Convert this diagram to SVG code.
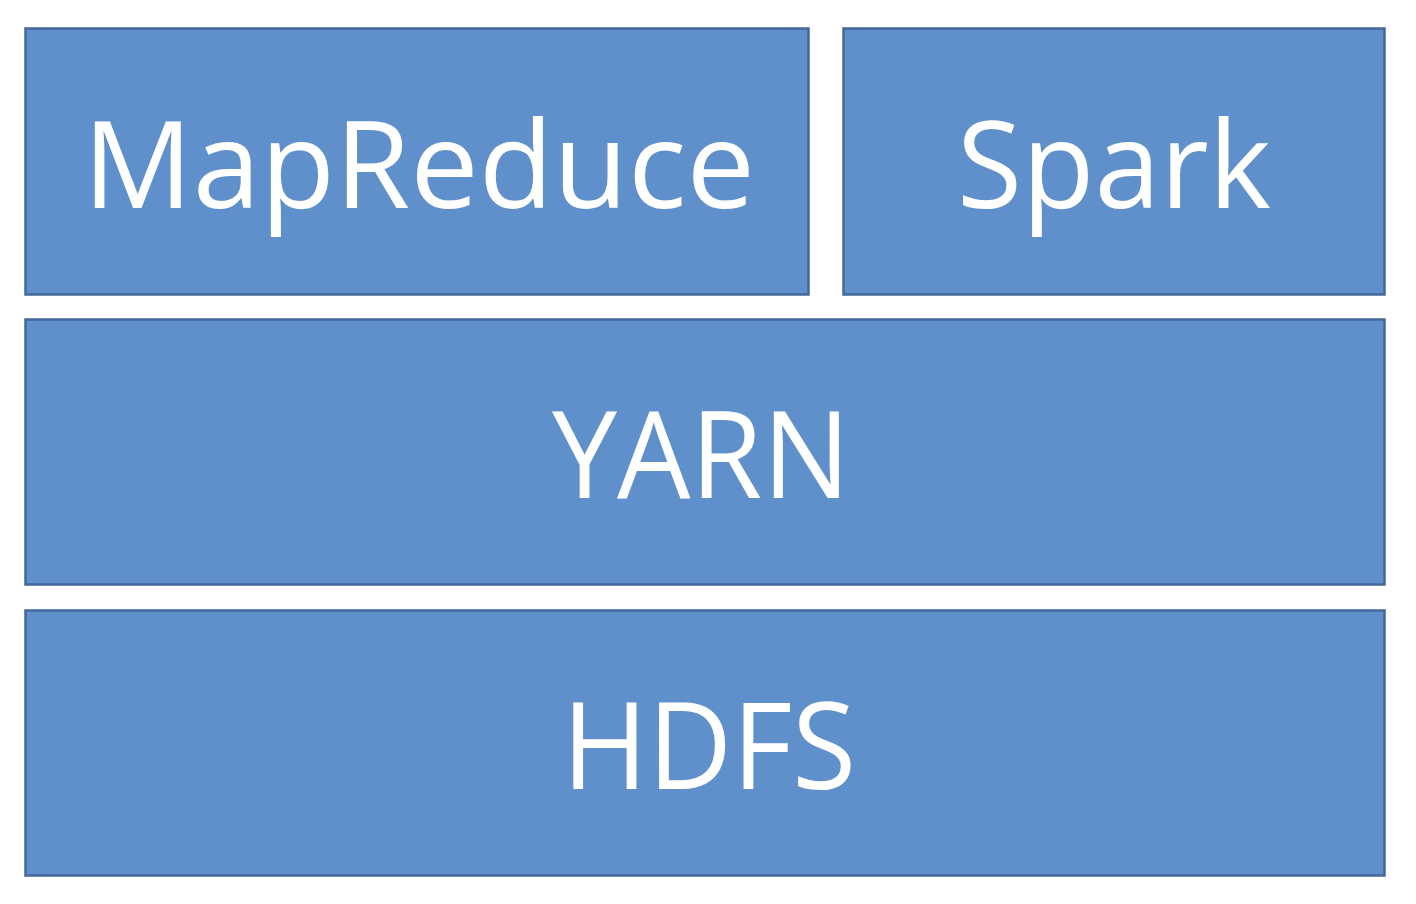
<svg xmlns="http://www.w3.org/2000/svg" width="1416" height="904" viewBox="0 0 1416 904">
<style>
.box{fill:#6090CB;stroke:#42699A;stroke-width:2.5}
.lbl{fill:#FFFFFF;font-family:"Open Sans","Noto Sans",sans-serif;font-size:120px;text-anchor:middle}
</style>
<rect width="1416" height="904" fill="#FFFFFF"/>
<g id="mapreduce"><rect class="box" x="25.5" y="28.5" width="783" height="266"/><text class="lbl" x="419" y="208" textLength="672" lengthAdjust="spacingAndGlyphs">MapReduce</text></g>
<g id="spark"><rect class="box" x="843.5" y="28.5" width="541" height="266"/><text class="lbl" x="1114" y="208" textLength="314" lengthAdjust="spacingAndGlyphs">Spark</text></g>
<g id="yarn"><rect class="box" x="25.5" y="319.5" width="1359" height="265"/><text class="lbl" x="701" y="498" textLength="298" lengthAdjust="spacingAndGlyphs">YARN</text></g>
<g id="hdfs"><rect class="box" x="25.5" y="610.5" width="1359" height="265"/><text class="lbl" x="709" y="789" textLength="294" lengthAdjust="spacingAndGlyphs">HDFS</text></g>
<g id="connectors"></g>
</svg>
